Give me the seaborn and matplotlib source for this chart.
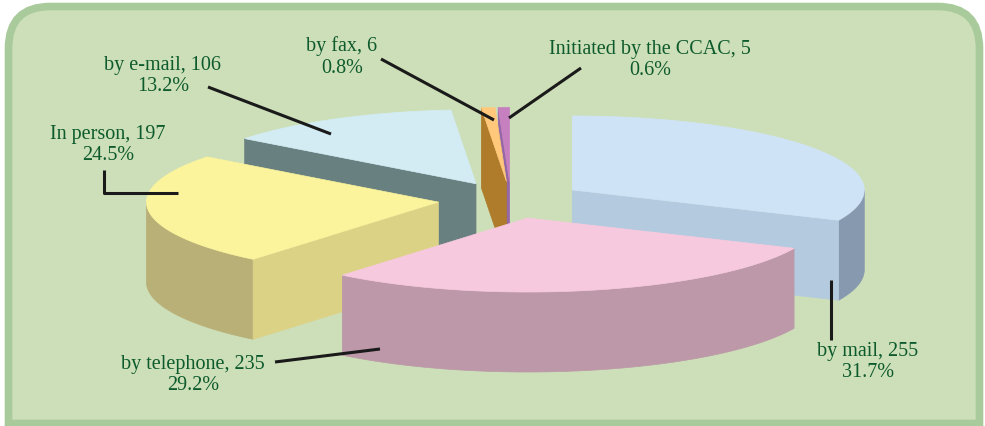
import numpy as np
import matplotlib
matplotlib.use("Agg")
import matplotlib.pyplot as plt
from matplotlib.patches import Polygon, PathPatch
from matplotlib.path import Path
import seaborn as sns

# data (clockwise from 12 o'clock)
labels = ['by mail', 'by telephone', 'In person', 'by e-mail', 'by fax', 'Initiated by the CCAC']
counts = [255, 235, 197, 106, 6, 5]
pct_text = ['31.7%', '29.2%', '24.5%', '13.2%', '0.8%', '0.6%']

# styles
top_cols = ['#cfe3f6', '#f7c9de', '#fbf49d', '#d3ecf4', '#ffc87a', '#c680c0']
face_cols = ['#b4cbdf', '#bc98a8', '#dbd286', '#688080', '#ae7c2a', '#9468a6']
rim_cols = ['#8799ae', '#bc98a8', '#b9b077', '#688080', '#ae7c2a', '#9468a6']
text_col = '#0d5a2c'

sns.set_theme(style='white')
plt.rcParams['font.family'] = ['Liberation Serif', 'DejaVu Serif']

fig = plt.figure(figsize=(9.85, 4.26), dpi=100)
ax = fig.add_axes([0, 0, 1, 1])
ax.set_xlim(0, 985)
ax.set_ylim(426, 0)
ax.axis('off')

# frame: rounded top corners, square bottom
def frame_path(x0, y0, x1, y1, r):
    verts = [(x0, y1), (x0, y0 + r), (x0, y0), (x0 + r, y0), (x1 - r, y0), (x1, y0), (x1, y0 + r), (x1, y1), (x0, y1)]
    codes = [Path.MOVETO, Path.LINETO, Path.CURVE3, Path.CURVE3, Path.LINETO, Path.CURVE3, Path.CURVE3, Path.LINETO, Path.CLOSEPOLY]
    return Path(verts, codes)

ax.add_patch(PathPatch(frame_path(8.5, 6.5, 979.5, 423.5, 42), facecolor='#cddfb8', edgecolor='#a9cb9c', lw=5.5, zorder=0))

# 3D pie geometry (pixels)
cx, cy = 511, 200
rx, ry = 292, 74
h = 80
d = 0.25

vals = np.array(counts, dtype=float)
edges = np.concatenate([[0], np.cumsum(vals) / vals.sum() * 360])

def pt(theta, ox, oy, z=0):
    t = np.radians(theta)
    return (cx + ox + rx * np.sin(t), cy + oy - ry * np.cos(t) + z)

slices = []
for i in range(len(vals)):
    a0, a1 = edges[i], edges[i + 1]
    mid = np.radians((a0 + a1) / 2)
    ox, oy = d * rx * np.sin(mid), -d * ry * np.cos(mid)
    slices.append((oy, i, a0, a1, ox))

for oy, i, a0, a1, ox in sorted(slices):
    apex = (cx + ox, cy + oy)
    # outer rim (front half only)
    lo, hi = max(a0, 90), min(a1, 270)
    if lo < hi:
        th = np.linspace(lo, hi, 80)
        up = [pt(t, ox, oy) for t in th]
        dn = [pt(t, ox, oy, h) for t in th[::-1]]
        ax.add_patch(Polygon(up + dn, closed=True, facecolor=rim_cols[i], edgecolor=rim_cols[i], lw=0.5, zorder=1))
    # cut faces
    for a, vis in ((a0, np.sin(np.radians(a0)) < -1e-9), (a1, np.sin(np.radians(a1)) > 1e-9)):
        if vis:
            e = pt(a, ox, oy)
            poly = [apex, e, (e[0], e[1] + h), (apex[0], apex[1] + h)]
            ax.add_patch(Polygon(poly, closed=True, facecolor=face_cols[i], edgecolor=face_cols[i], lw=0.5, zorder=1))
    # top face
    th = np.linspace(a0, a1, max(3, int(a1 - a0) * 2))
    poly = [apex] + [pt(t, ox, oy) for t in th]
    ax.add_patch(Polygon(poly, closed=True, facecolor=top_cols[i], edgecolor=top_cols[i], lw=0.5, zorder=1))

# labels and leader lines
lab_pos = [(868, 362), (193, 375), (108, 145), (163, 76), (342, 57), (650, 60)]
leaders = [
    [(831, 280), (831, 340)],
    [(275, 362), (380, 349)],
    [(104, 170), (104, 193), (178, 193)],
    [(208, 87), (331, 134)],
    [(381, 59), (494, 120)],
    [(581, 68), (509, 118)],
]
for i in range(len(labels)):
    x, y = lab_pos[i]
    ax.text(x, y, f'{labels[i]}, {counts[i]}\n{pct_text[i]}', ha='center', va='center',
            fontsize=14.5, color=text_col, linespacing=1.2, zorder=3)
    xs, ys = zip(*leaders[i])
    ax.plot(xs, ys, color='#1a1a1a', lw=2.2, solid_capstyle='butt', zorder=4)

fig.savefig('out.png', dpi=100, facecolor='white')
